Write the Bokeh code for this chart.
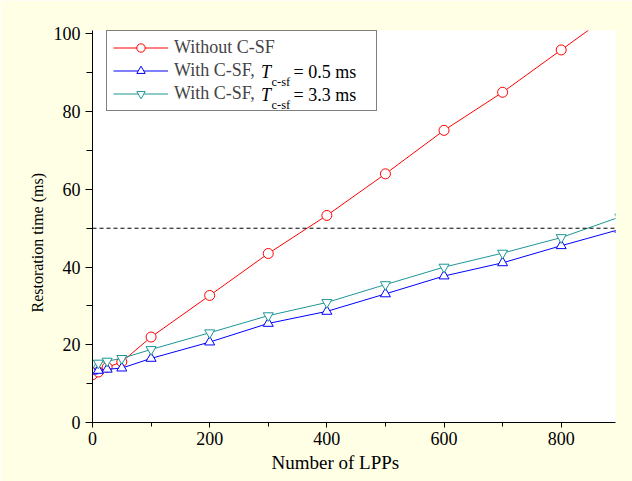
from bokeh.plotting import figure
from bokeh.models import Range1d, Span, Legend, LegendItem, FixedTicker, Title
from bokeh.core.properties import value
from bokeh.embed import file_html
from bokeh.resources import INLINE

# ---- data ----
lpps = [0, 10, 25, 50, 100, 200, 300, 400, 500, 600, 700, 800, 900]
without_csf = [12.3, 13.0, 14.2, 15.6, 22.0, 32.7, 43.5, 53.3, 64.0, 75.2, 85.0, 95.9, 106.8]
with_csf_05 = [13.2, 13.4, 13.7, 14.0, 16.5, 20.7, 25.5, 28.6, 33.1, 37.7, 41.1, 45.5, 49.7]
with_csf_33 = [15.2, 15.3, 15.8, 16.5, 18.8, 23.1, 27.5, 30.9, 35.5, 40.0, 43.6, 47.6, 52.9]
threshold = 50

x_major = [0, 200, 400, 600, 800]
x_minor = [100, 300, 500, 700]
y_major = [0, 20, 40, 60, 80, 100]
y_minor = [10, 30, 50, 70, 90]

FONT = "Liberation Serif"
RED, BLUE, TEAL = "#FF0000", "#0000FF", "#1E9696"

X1, Y1 = 892.7, 100.9
W, H = 632, 481
FL, FR, FT, FB = 92, 615, 30, 422          # frame edges on the page (px)
BL, BR, BT, BB = FL, W - FR, FT, H - FB

p = figure(width=W, height=H, output_backend="svg", toolbar_location=None,
           x_range=Range1d(0, X1), y_range=Range1d(0, Y1),
           min_border_left=BL, min_border_right=BR, min_border_top=BT, min_border_bottom=BB)
p.border_fill_color = "#FFFFE6"
p.background_fill_color = "white"
p.outline_line_color = None
p.grid.visible = False

p.xaxis.ticker = FixedTicker(ticks=x_major, minor_ticks=x_minor)
p.yaxis.ticker = FixedTicker(ticks=y_major, minor_ticks=y_minor)
for ax in (p.xaxis, p.yaxis):
    ax.axis_line_color = "black"
    ax.major_tick_line_color = "black"
    ax.minor_tick_line_color = "black"
    ax.major_tick_in = 0
    ax.minor_tick_in = 0
    ax.major_label_text_font = FONT
    ax.major_label_text_font_size = "18px"
    ax.major_label_text_color = "black"
p.xaxis.major_tick_out = 5
p.xaxis.minor_tick_out = 4
p.yaxis.major_tick_out = 7
p.yaxis.minor_tick_out = 6
p.xaxis.major_label_standoff = 4
p.yaxis.major_label_standoff = 5

# axis titles as side titles, offset along the frame as in the original
p.add_layout(Title(text="Number of LPPs", align="left", offset=179, standoff=4,
                   text_font=FONT, text_font_size="19px", text_font_style="normal",
                   text_color="black"), "below")
p.add_layout(Title(text="Restoration time (ms)", align="left", offset=110, standoff=10,
                   text_font=FONT, text_font_size="16px", text_font_style="normal",
                   text_color="black"), "left")

p.add_layout(Span(location=threshold, dimension="width", line_color="black",
                  line_dash="4 3", line_width=1))

series = [
    (without_csf, RED, "circle"),
    (with_csf_05, BLUE, "triangle"),
    (with_csf_33, TEAL, "inverted_triangle"),
]
rends = []
for ys, col, mk in series:
    l = p.line(lpps, ys, line_color=col, line_width=1)
    s = p.scatter(lpps, ys, marker=mk, size=10, line_color=col, fill_color="white", line_width=1)
    rends.append([l, s])

def dx(px):
    return (px - FL) / (FR - FL) * X1
def dy(py):
    return (FB - py) / (FB - FT) * Y1

# legend geometry (px)
PAD, SP, GW, GH, LH, LW, LS = 6, 2, 55, 21, 21, 196, 6
box_h = 2 * PAD + 3 * LH + 2 * SP
box_left, box_bottom = 106, 111
box_top = box_bottom - box_h
row_c = [box_top + PAD + LH / 2 + k * (LH + SP) for k in range(3)]

# pieces of the legend text with italic T and subscript
T_x, T_y, S_x, S_y, R_x, R_y, R_t = [], [], [], [], [], [], []
for k, rest in ((1, "= 0.5 ms"), (2, "= 3.3 ms")):
    c = row_c[k]
    T_x.append(dx(260.5)); T_y.append(dy(c))
    S_x.append(dx(271)); S_y.append(dy(c + 9.5))
    R_x.append(dx(293)); R_y.append(dy(c)); R_t.append(rest)
p.text(T_x, T_y, text=["T", "T"], text_font=value(FONT), text_font_size=value("18px"),
       text_font_style="italic", text_baseline="middle", text_color="black")
p.text(S_x, S_y, text=["c-sf", "c-sf"], text_font=value(FONT), text_font_size=value("12.5px"),
       text_baseline="alphabetic", text_color="black")
p.text(R_x, R_y, text=R_t, text_font=value(FONT), text_font_size=value("18px"),
       text_baseline="middle", text_color="black")

labels = ["Without C-SF", "With C-SF,", "With C-SF,"]
legend = Legend(items=[LegendItem(label=t, renderers=r) for t, r in zip(labels, rends)],
                location=(box_left - FL, FB - box_bottom), padding=PAD, spacing=SP,
                glyph_width=GW, glyph_height=GH, label_height=LH, label_width=LW,
                label_standoff=LS, margin=0,
                label_text_font=FONT, label_text_font_size="18px",
                border_line_color="black", border_line_width=1,
                background_fill_alpha=0.0)
p.add_layout(legend)

open("out.html", "w").write(file_html(p, INLINE))
